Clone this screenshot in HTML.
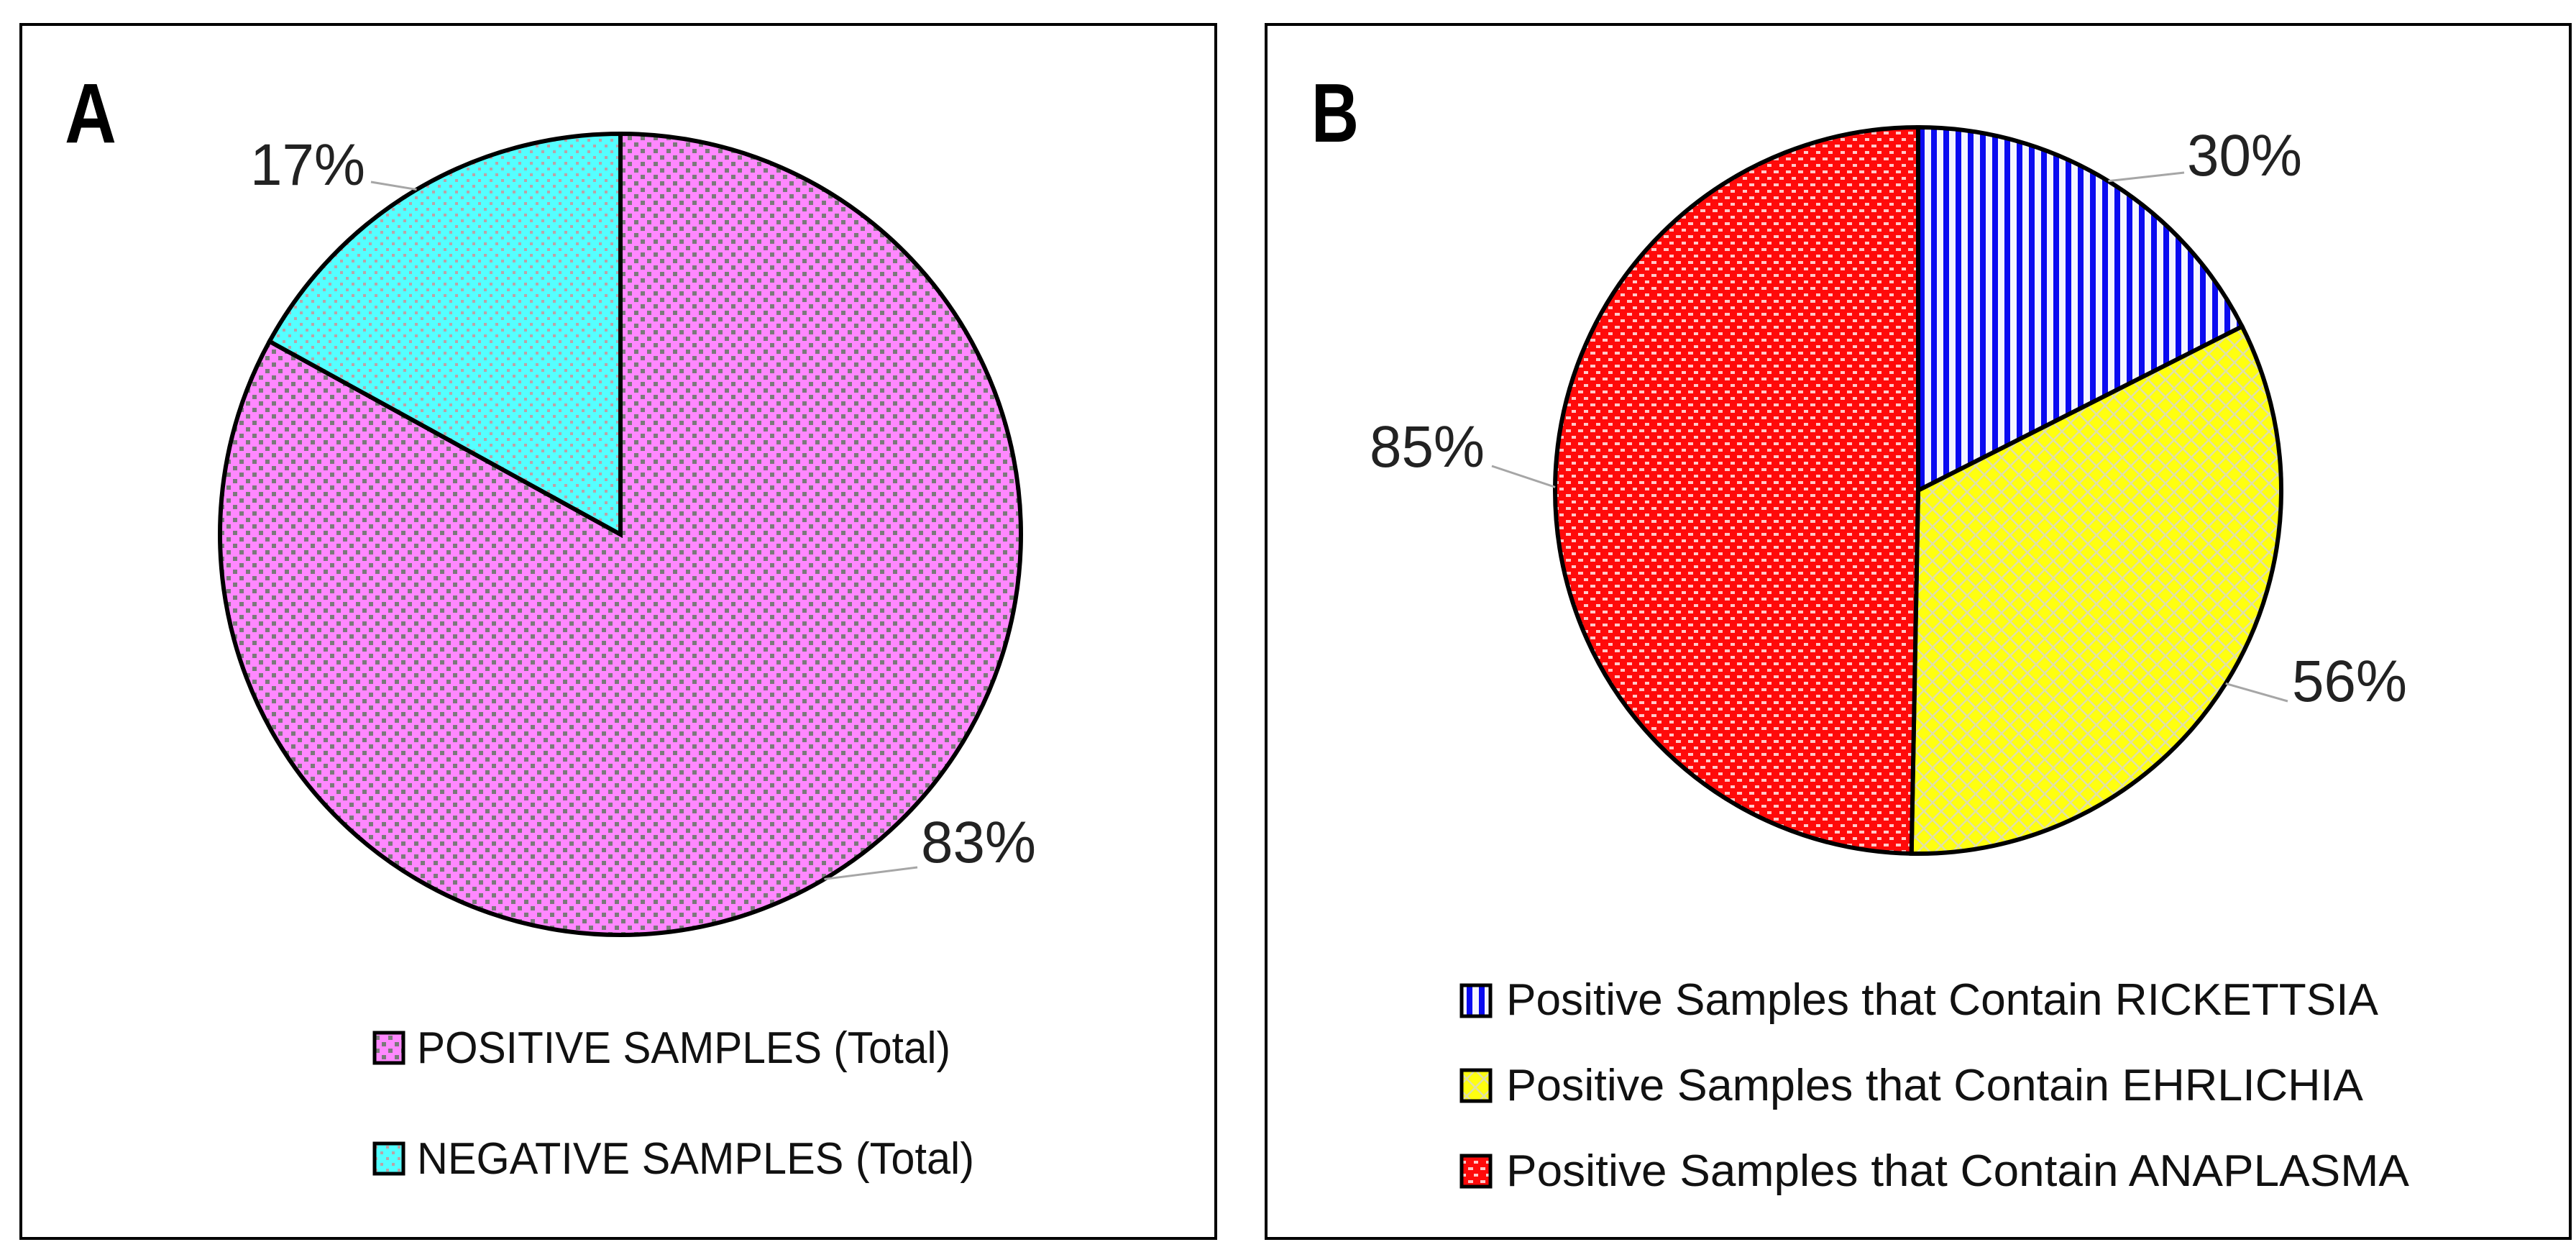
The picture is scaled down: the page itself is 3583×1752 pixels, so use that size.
<!DOCTYPE html>
<html><head><meta charset="utf-8"><style>
html,body{margin:0;padding:0;background:#fff;}
svg{display:block;}
text{font-family:"Liberation Sans",sans-serif;}
</style></head><body>
<svg id="chart" width="3583" height="1752" viewBox="0 0 3583 1752" xmlns="http://www.w3.org/2000/svg">
<defs>
<pattern id="p-pos" width="18" height="18" patternUnits="userSpaceOnUse">
<rect width="18" height="18" fill="#ff88ff"/>
<rect x="0" y="0" width="6" height="6" fill="#7a7a7a"/>
<rect x="9" y="9" width="6" height="6" fill="#7a7a7a"/>
</pattern>
<pattern id="p-neg" width="16" height="16" patternUnits="userSpaceOnUse">
<rect width="16" height="16" fill="#55ffff"/>
<rect x="1" y="1" width="4" height="4" fill="#bba4a8"/>
<rect x="9" y="9" width="4" height="4" fill="#bba4a8"/>
</pattern>
<pattern id="p-rick" width="17" height="17" patternUnits="userSpaceOnUse">
<rect width="17" height="17" fill="#f4f4ff"/>
<rect x="0" y="0" width="8" height="17" fill="#0a0af0"/>
</pattern>
<pattern id="p-ehr" width="24" height="24" patternUnits="userSpaceOnUse">
<rect width="24" height="24" fill="#ffff10"/>
<path d="M0 12 L12 0 L24 12 L12 24 Z" fill="none" stroke="#e0e0a8" stroke-width="2.5"/>
</pattern>
<pattern id="p-ana" width="17" height="18" patternUnits="userSpaceOnUse">
<rect width="17" height="18" fill="#ff0a0a"/>
<rect x="2" y="3" width="7" height="4" fill="#ffc8c8"/>
<rect x="10" y="12" width="6" height="4" fill="#ffc8c8"/>
</pattern>
</defs>

<rect x="29" y="34" width="1662" height="1688" fill="#fff" stroke="#000" stroke-width="4"/>
<rect x="1761" y="34" width="1814" height="1688" fill="#fff" stroke="#000" stroke-width="4"/>
<text x="90" y="198" font-size="118" font-weight="bold" textLength="72" lengthAdjust="spacingAndGlyphs">A</text>
<text x="1824" y="197" font-size="116" font-weight="bold" textLength="66" lengthAdjust="spacingAndGlyphs">B</text>
<g id="pieA"></g>
<g id="pieB"></g>

<g>
<rect x="521" y="1436" width="40" height="42" fill="url(#p-pos)" stroke="#000" stroke-width="5"/>
<text x="580" y="1478" font-size="62" textLength="742" lengthAdjust="spacingAndGlyphs" fill="#111">POSITIVE SAMPLES (Total)</text>
<rect x="521" y="1590" width="40" height="42" fill="url(#p-neg)" stroke="#000" stroke-width="5"/>
<text x="580" y="1632" font-size="62" textLength="775" lengthAdjust="spacingAndGlyphs" fill="#111">NEGATIVE SAMPLES (Total)</text>
</g>
<g>
<rect x="2033" y="1370" width="40" height="43" fill="url(#p-rick)" stroke="#000" stroke-width="5"/>
<text x="2095" y="1411" font-size="62" textLength="1213" lengthAdjust="spacingAndGlyphs" fill="#111">Positive Samples that Contain RICKETTSIA</text>
<rect x="2033" y="1488" width="40" height="43" fill="url(#p-ehr)" stroke="#000" stroke-width="5"/>
<text x="2095" y="1530" font-size="62" textLength="1192" lengthAdjust="spacingAndGlyphs" fill="#111">Positive Samples that Contain EHRLICHIA</text>
<rect x="2033" y="1607" width="40" height="43" fill="url(#p-ana)" stroke="#000" stroke-width="5"/>
<text x="2095" y="1649" font-size="62" textLength="1256" lengthAdjust="spacingAndGlyphs" fill="#111">Positive Samples that Contain ANAPLASMA</text>
</g>
</svg>
<script>
const catsA = ["POSITIVE SAMPLES (Total)", "NEGATIVE SAMPLES (Total)"];
const valsA = [83, 17];
const labelsA = ["83%", "17%"];
const catsB = ["RICKETTSIA", "EHRLICHIA", "ANAPLASMA"];
const valsB = [30, 56, 85];
const labelsB = ["30%", "56%", "85%"];

const NS = "http://www.w3.org/2000/svg";
function pt(cx, cy, r, frac){const a=frac*2*Math.PI;return [cx+r*Math.sin(a), cy-r*Math.cos(a)];}
function drawPie(g, cx, cy, r, vals, labels, fills, names, labelPos){
  const tot = vals.reduce((a,b)=>a+b,0);
  let cum = 0;
  vals.forEach((v,i)=>{
    const f0 = cum/tot, f1=(cum+v)/tot; cum+=v;
    const p0=pt(cx,cy,r,f0), p1=pt(cx,cy,r,f1);
    const large=(f1-f0)>0.5?1:0;
    const path=document.createElementNS(NS,"path");
    path.setAttribute("d",`M${cx} ${cy} L${p0[0]} ${p0[1]} A${r} ${r} 0 ${large} 1 ${p1[0]} ${p1[1]} Z`);
    path.setAttribute("fill",fills[i]);
    path.setAttribute("stroke","#000");
    path.setAttribute("stroke-width","6");
    
    
    g.appendChild(path);
    const mid=(f0+f1)/2;
    const e=pt(cx,cy,r,mid);
    const lp=labelPos[i];
    const line=document.createElementNS(NS,"path");
    line.setAttribute("d",`M${e[0]} ${e[1]} L${lp.lx} ${lp.ly}`);
    line.setAttribute("stroke","#a6a6a6");
    line.setAttribute("stroke-width","3");
    line.setAttribute("fill","none");
    
    
    g.appendChild(line);
    const t=document.createElementNS(NS,"text");
    t.setAttribute("x",lp.x);t.setAttribute("y",lp.y);
    t.setAttribute("font-size","82");t.setAttribute("fill","#222");
    t.setAttribute("textLength","160");t.setAttribute("lengthAdjust","spacingAndGlyphs");
    t.textContent=labels[i];
    
    
    g.appendChild(t);
  });
}
drawPie(document.getElementById("pieA"), 863, 743, 557, valsA, labelsA,
  ["url(#p-pos)","url(#p-neg)"], ["positive","negative"],
  [{x:1281,y:1199,lx:1276,ly:1206},{x:348,y:257,lx:516,ly:253}]);
drawPie(document.getElementById("pieB"), 2668, 682, 505, valsB, labelsB,
  ["url(#p-rick)","url(#p-ehr)","url(#p-ana)"], ["rickettsia","ehrlichia","anaplasma"],
  [{x:3042,y:244,lx:3038,ly:240},{x:3188,y:975,lx:3182,ly:975},{x:1905,y:649,lx:2075,ly:648}]);
</script>
</body></html>
